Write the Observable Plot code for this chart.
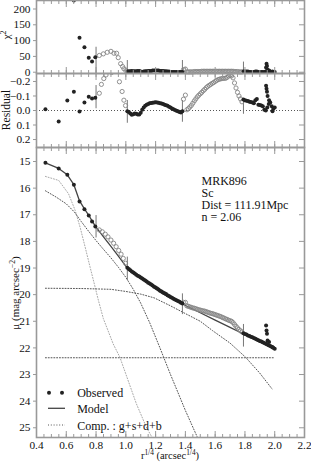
<!DOCTYPE html>
<html><head><meta charset="utf-8">
<script src="https://cdn.jsdelivr.net/npm/d3@7"></script>
<script src="https://cdn.jsdelivr.net/npm/@observablehq/plot@0.6"></script>
<style>
html,body{margin:0;padding:0;background:#fff}
#chart{width:311px;height:463px;position:relative;overflow:hidden}
#chart svg{display:block}
</style>
</head><body><div id="chart"></div>
<script>
// ---------- tick values ----------
const xMajor = [0.4,0.6,0.8,1.0,1.2,1.4,1.6,1.8,2.0,2.2];
const xMinor = d3.range(0.4, 2.2001, 0.05);
const chiTicks = [0,50,100,150,200];
const resTicks = [-0.2,-0.1,0,0.1,0.2];
const resLabels = ["\u22120.2","\u22120.1","0.0","0.1","0.2"];
const muTicks = [15,16,17,18,19,20,21,22,23,24,25];

// ---------- observed: inner filled points ----------
const inX   = [0.46,0.549,0.607,0.651,0.689,0.722,0.751,0.773,0.795];
const inMu  = [15.05,15.26,15.50,15.87,16.50,16.79,17.03,17.25,17.44];
const inRes = [-0.009,0.076,-0.069,-0.129,0.007,-0.055,-0.094,-0.083,-0.088];
const inChi = [null,null,null,227,109,79,46,34,47];

// ---------- observed: open circles, segment A ----------
const aX   = [0.822,0.842,0.862,0.88,0.90,0.918,0.935,0.952,0.968,0.983,0.998];
const aMu  = [17.57,17.64,17.73,17.83,17.95,18.07,18.20,18.34,18.48,18.64,18.82];
const aResX = [0.822,0.836,0.852,0.867,0.885,0.905,0.925,0.945,0.957,0.975,0.987,0.998];
const aRes  = [-0.119,-0.18,-0.22,-0.245,-0.29,-0.262,-0.31,-0.27,-0.198,-0.131,-0.071,-0.034];
const aChiX = [0.822,0.849,0.875,0.90,0.92,0.938,0.949,0.965,0.978,0.987,1.0];
const aChi  = [53,58,63,66,60,60,46,27,18,11,5];

// ---------- observed: dense filled, segment B ----------
const bX = [1.01,1.02,1.03,1.04,1.05,1.06,1.07,1.08,1.09,1.10,1.11,1.12,1.13,1.14,1.15,1.16,1.17,1.18,1.19,1.20,1.21,1.22,1.23,1.24,1.25,1.26,1.27,1.28,1.29,1.30,1.31,1.32,1.33,1.34,1.35,1.36,1.37,1.38];
const bMu = [18.99,19.04,19.08,19.13,19.17,19.21,19.25,19.29,19.32,19.36,19.39,19.43,19.47,19.51,19.55,19.58,19.62,19.66,19.70,19.73,19.77,19.81,19.85,19.88,19.92,19.95,19.98,20.02,20.05,20.09,20.12,20.15,20.18,20.21,20.24,20.27,20.30,20.33];
const bRes = [0.005,0.01,0.02,0.03,0.025,0.02,0.022,0.027,0.028,0.015,-0.005,-0.02,-0.032,-0.04,-0.045,-0.05,-0.052,-0.054,-0.055,-0.056,-0.055,-0.053,-0.05,-0.048,-0.045,-0.04,-0.037,-0.032,-0.025,-0.02,-0.014,-0.008,-0.003,0.002,0.006,0.01,0.013,0.005];
const bChi = [2,3,3,4,3,3,3,4,4,2,1,2,3,3,4,4,4,5,5,5,5,5,4,4,4,3,3,2,2,1,1,1,1,1,1,1,1,1];

// ---------- observed: open circles, segment C ----------
const cX = [1.387,1.40,1.41,1.42,1.43,1.44,1.45,1.46,1.47,1.48,1.49,1.50,1.51,1.52,1.53,1.54,1.55,1.56,1.57,1.58,1.59,1.60,1.61,1.62,1.63,1.64,1.65,1.66,1.67,1.68,1.69,1.70,1.71,1.72,1.73,1.74,1.75,1.76,1.77,1.78];
const cMu = [20.29,20.29,20.42,20.44,20.46,20.48,20.50,20.51,20.53,20.55,20.57,20.58,20.60,20.61,20.62,20.64,20.66,20.68,20.70,20.71,20.73,20.75,20.77,20.79,20.81,20.83,20.86,20.88,20.91,20.93,20.96,20.98,21.00,21.05,21.12,21.19,21.25,21.31,21.36,21.40];
const cRes = [-0.078,-0.106,-0.005,-0.013,-0.024,-0.035,-0.05,-0.066,-0.08,-0.094,-0.105,-0.115,-0.125,-0.136,-0.146,-0.157,-0.166,-0.173,-0.18,-0.187,-0.193,-0.2,-0.207,-0.213,-0.216,-0.219,-0.221,-0.222,-0.222,-0.228,-0.238,-0.242,-0.238,-0.225,-0.19,-0.155,-0.125,-0.1,-0.08,-0.06];
const cChi = [8,10,1,1,1,1,1,2,2,2,2,2,3,3,3,3,3,3,3,3,3,3,3,3,3,3,3,3,3,3,3,3,3,3,2,2,2,1,1,1];

// ---------- observed: dense filled, segment D ----------
const dX = [1.79,1.80,1.81,1.82,1.83,1.84,1.85,1.86,1.87,1.88,1.89,1.90,1.91,1.92,1.93,1.94,1.95,1.96,1.97,1.98,1.99,2.00];
const dMu = [21.45,21.48,21.50,21.53,21.55,21.58,21.60,21.63,21.66,21.68,21.71,21.74,21.76,21.79,21.82,21.84,21.87,21.90,21.93,21.96,21.99,22.03];
const dRes = [-0.075,-0.07,-0.068,-0.065,-0.06,-0.058,-0.055,-0.05,-0.07,-0.08,-0.04,-0.038,-0.035,-0.03,-0.005,0.0,-0.02,-0.045,-0.055,-0.03,-0.01,-0.02];
const dChi = [2,2,2,2,1,1,1,1,2,2,1,1,1,1,1,2,3,2,2,1,1,1];
const oX   = [1.942,1.945,1.948,1.952,1.962,1.985];
const oMu  = [21.16,21.35,21.47,21.72,21.78,21.98];
const oRes = [-0.17,-0.15,-0.13,-0.10,-0.07,0.005];
const oChi = [15,27,20,8,5,2];

// ---------- model (total) ----------
const modelX  = [0.46,0.549,0.607,0.651,0.689,0.722,0.751,0.773,0.795,0.85,0.9,0.95,1.0,1.05,1.1,1.15,1.2,1.25,1.3,1.38,1.5,1.6,1.7,1.78,1.9,2.0];
const modelMu = [15.05,15.26,15.50,15.87,16.48,16.78,17.02,17.23,17.43,17.83,18.19,18.55,18.93,19.14,19.36,19.57,19.79,19.97,20.12,20.35,20.68,20.96,21.23,21.45,21.78,22.06];

// ---------- components ----------
const compAX  = [0.46,0.549,0.615,0.66,0.693,0.727,0.76,0.793,0.815,0.849,0.915,0.96,1.015,1.071,1.138,1.2];
const compAMu = [15.56,15.71,16.21,16.84,17.47,18.22,18.97,19.70,20.20,20.90,21.85,22.35,23.22,24.1,24.98,25.6];
const compBX  = [0.46,0.533,0.60,0.655,0.70,0.75,0.80,0.85,0.90,0.95,1.0,1.05,1.10,1.16,1.227,1.30,1.40,1.50];
const compBMu = [16.10,16.34,16.59,16.90,17.25,17.62,17.97,18.30,18.62,18.97,19.35,19.80,20.32,21.05,21.97,23.0,24.35,25.6];
const compCX  = [0.46,0.7,0.9,1.0,1.1,1.19,1.3,1.382,1.5,1.582,1.7,1.804,1.9,1.982];
const compCMu = [19.76,19.77,19.80,19.88,19.98,20.12,20.42,20.66,21.0,21.35,21.82,22.35,22.95,23.54];
const compDX  = [0.46,2.0];
const compDMu = [22.37,22.37];

// ---------- segment separators ----------
const sepX = [0.80,1.01,1.38,1.79];
const sepMu1 = [17.03,18.59,19.97,21.12], sepMu2 = [17.87,19.47,20.75,21.97];
const sepRes1 = [-0.172,-0.069,-0.069,-0.067], sepRes2 = [-0.012,0.088,0.081,0.026];
const sepChi1 = [79,37,37,32], sepChi2 = [-4,-4,-4,-4];

const info = ["MRK896","Sc","Dist = 111.91Mpc","n = 2.06"];
const legendLabels = ["Observed","Model","Comp. : g+s+d+b"];

// ---------- helpers ----------
const FONT = "'Liberation Serif','Times New Roman',serif";
const GRAY = "#999";
const INK = "#111";
const xy = (xs, ys) => xs.map((x,i) => ({x, y: ys[i]}));
const seg = (xs, y1, y2) => xs.map((x,i) => ({x, y1: y1[i], y2: y2[i]}));
const blank = () => "";

function frameAxes(yTicks, yFmt, withXLabels) {
  const m = [
    Plot.axisX({anchor:"bottom", ticks:xMinor, tickSize:-3, tickFormat:blank, stroke:GRAY, label:null}),
    Plot.axisX({anchor:"bottom", ticks:xMajor, tickSize:-6, tickFormat:blank, stroke:GRAY, label:null}),
    Plot.axisX({anchor:"top", ticks:xMinor, tickSize:-3, tickFormat:blank, stroke:GRAY, label:null}),
    Plot.axisX({anchor:"top", ticks:xMajor, tickSize:-6, tickFormat:blank, stroke:GRAY, label:null}),
    Plot.axisY({anchor:"left", ticks:yTicks, tickSize:3, tickFormat:blank, stroke:GRAY, label:null}),
    Plot.axisY({anchor:"left", ticks:yTicks, tickSize:0, tickPadding:6, tickFormat:yFmt, fill:INK, label:null}),
    Plot.axisY({anchor:"right", ticks:yTicks, tickSize:-6, tickFormat:blank, stroke:GRAY, label:null}),
    Plot.frame({stroke:GRAY, strokeWidth:1.6})
  ];
  if (withXLabels) m.push(Plot.axisX({anchor:"bottom", ticks:xMajor, tickSize:0, tickPadding:3, tickFormat:d=>d.toFixed(1), fill:INK, label:null}));
  return m;
}
const common = {
  width:311, marginLeft:36, marginRight:7, marginTop:0,
  x:{domain:[0.4,2.2]},
  style:{fontFamily:FONT, fontSize:"11.3px", color:INK, background:"transparent", overflow:"visible"}
};
const filled = {x:"x", y:"y", r:2, fill:"#222"};
const open = {x:"x", y:"y", r:2.1, stroke:"#858585", strokeWidth:0.9, fill:"none"};

// ---------- panel 1 : chi^2 ----------
const p1 = Plot.plot({...common, height:73, marginBottom:0,
  y:{domain:[-4.1,226.9]},
  marks:[
    Plot.ruleX(seg(sepX, sepChi1, sepChi2), {x:"x", y1:"y1", y2:"y2", stroke:"#777", clip:true}),
    Plot.dot(xy(cX, cChi), open),
    Plot.dot(xy(aChiX, aChi), open),
    Plot.dot(xy(inX, inChi).filter(d => d.y != null), filled),
    Plot.dot(xy(bX, bChi), filled),
    Plot.dot(xy(dX, dChi), filled),
    Plot.dot(xy(oX, oChi), filled),
    ...frameAxes(chiTicks, d => String(d), false)
  ]});

// ---------- panel 2 : residual ----------
const p2 = Plot.plot({...common, height:74, marginBottom:0,
  y:{domain:[-0.255,0.255], reverse:true},
  marks:[
    Plot.ruleY([0], {stroke:"#555", strokeDasharray:"1,2"}),
    Plot.ruleX(seg(sepX, sepRes1, sepRes2), {x:"x", y1:"y1", y2:"y2", stroke:"#777"}),
    Plot.dot(xy(aResX, aRes), {...open, clip:true}),
    Plot.dot(xy(cX, cRes), {...open, clip:true}),
    Plot.dot(xy(inX, inRes), filled),
    Plot.dot(xy(bX, bRes), filled),
    Plot.dot(xy(dX, dRes), filled),
    Plot.dot(xy(oX, oRes), filled),
    ...frameAxes(resTicks, d => resLabels[resTicks.indexOf(d)], false)
  ]});

// ---------- panel 3 : surface brightness ----------
const dotted = {x:"x", y:"y", stroke:"#555", strokeWidth:1, strokeDasharray:"1,1.8", clip:true};
const p3 = Plot.plot({...common, height:316, marginBottom:26,
  y:{domain:[14.474,25.365], reverse:true},
  marks:[
    Plot.line(xy(compAX, compAMu), {...dotted, stroke:"#a8a8a8"}),
    Plot.line(xy(compBX, compBMu), dotted),
    Plot.line(xy(compCX, compCMu), dotted),
    Plot.line(xy(compDX, compDMu), dotted),
    Plot.line(xy(modelX, modelMu), {x:"x", y:"y", stroke:"#444", strokeWidth:1.3}),
    Plot.ruleX(seg(sepX, sepMu1, sepMu2), {x:"x", y1:"y1", y2:"y2", stroke:"#777"}),
    Plot.dot(xy(aX, aMu), open),
    Plot.dot(xy(cX, cMu), open),
    Plot.dot(xy(inX, inMu), filled),
    Plot.dot(xy(bX, bMu), filled),
    Plot.dot(xy(dX, dMu), filled),
    Plot.dot(xy(oX, oMu), filled),
    ...info.map((t,i) => Plot.text([t], {frameAnchor:"top-left", dx:165, dy:28.8 + 12.2*i, lineAnchor:"top", textAnchor:"start", fontSize:12, fill:INK})),
    ...legendLabels.map((t,i) => Plot.text([t], {frameAnchor:"bottom-left", dx:40.7, dy:-49.5 + 16.5*i, lineAnchor:"top", textAnchor:"start", fontSize:12, fill:INK})),
    ...frameAxes(muTicks, d => String(d), true)
  ]});

const root = document.getElementById("chart");
[p1,p2,p3].forEach(s => root.appendChild(s));

// ---------- axis titles (rotated, with superscripts) ----------
function label(svg, x, y, parts, rotate, size) {
  const t = d3.select(svg).append("text")
    .attr("transform", `translate(${x},${y})` + (rotate ? " rotate(-90)" : ""))
    .attr("text-anchor","middle").attr("font-family",FONT).attr("font-size",size).attr("fill",INK);
  parts.forEach(([s, sup]) => {
    const ts = t.append("tspan").text(s);
    if (sup) ts.attr("baseline-shift","super").attr("font-size", size*0.7);
  });
}
label(p1, 10, 35, [["\u03c7"],["2",true]], true, 11);
label(p2, 10, 37, [["Residual"]], true, 11.5);
label(p3, 19, 146, [["\u03bc (mag arcsec"],["\u22122",true],[")"]], true, 11);
label(p3, 170, 312, [["r"],["1/4",true],[" (arcsec"],["1/4",true],[")"]], false, 10.5);

// ---------- legend swatches ----------
const g = d3.select(p3).append("g");
[49,62].forEach(cx => g.append("circle").attr("cx",cx).attr("cy",245.7).attr("r",2).attr("fill","#222"));
g.append("line").attr("x1",48).attr("x2",65).attr("y1",261.3).attr("y2",261.3).attr("stroke","#444").attr("stroke-width",1.3);
g.append("line").attr("x1",48).attr("x2",65).attr("y1",278).attr("y2",278).attr("stroke","#555").attr("stroke-dasharray","1,1.8");
</script></body></html>
